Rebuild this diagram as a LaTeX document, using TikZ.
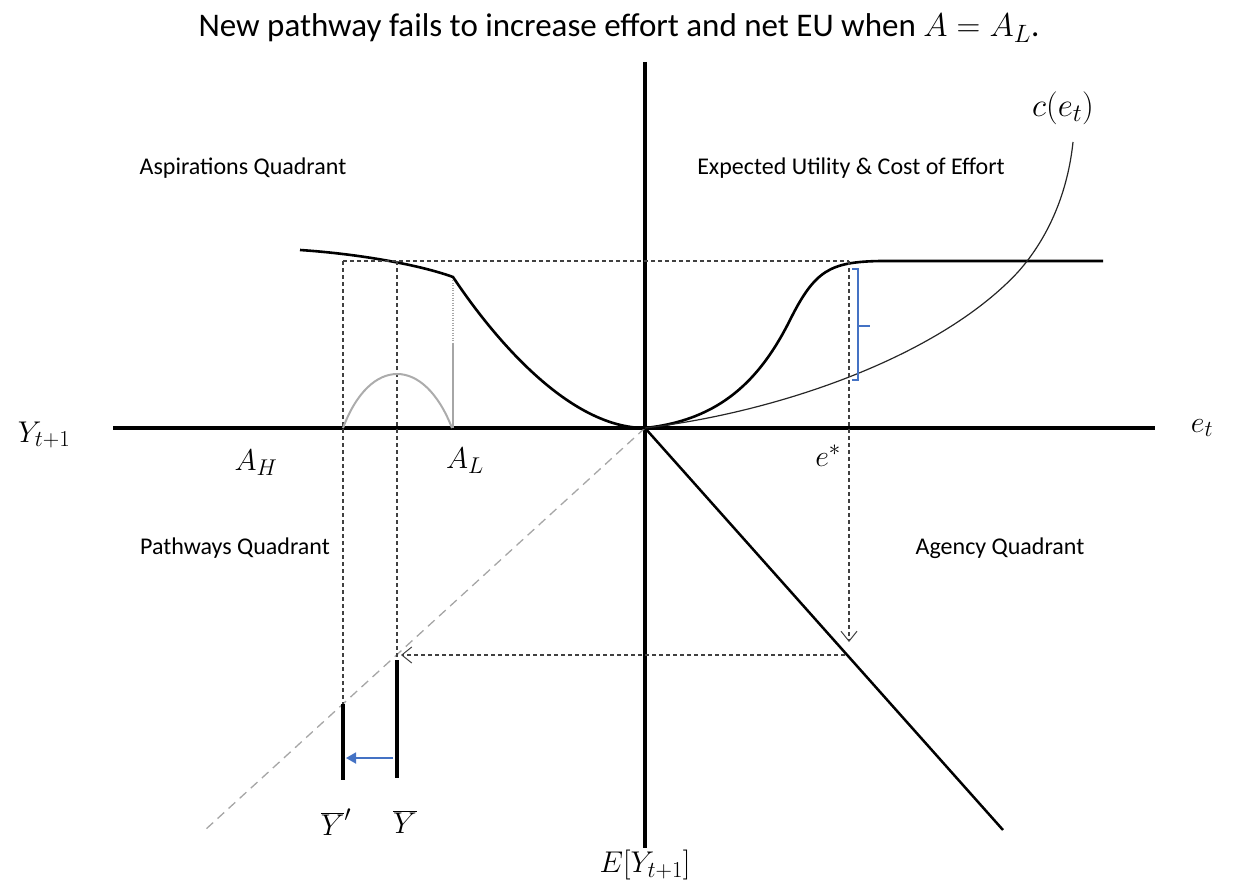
\RequirePackage{fix-cm}
\documentclass[tikz,border=0pt]{standalone}
\usepackage{fontspec}
\setmainfont{Carlito}
\usetikzlibrary{arrows.meta}
\def\defaultscriptratio{.76}
\definecolor{bracketblue}{RGB}{68,114,196}
\begin{document}
\begin{tikzpicture}[x=1pt,y=-1pt,
  axis/.style={line width=4pt},
  curve/.style={line width=2.6pt},
  thin curve/.style={line width=1.2pt, black!85},
  guide/.style={dash pattern=on 4pt off 3pt, line width=1.1pt, black!75},
  opentip/.style={-{Straight Barb[length=10pt,width=16pt,line width=1pt]}},
  diag/.style={dash pattern=on 9pt off 6pt, line width=1.3pt, gray!70},
  hump/.style={line width=2pt, gray!65},
  bar/.style={line width=4.5pt},
  blue line/.style={bracketblue, line width=1.8pt},
  qlabel/.style={font=\fontsize{24}{28}\selectfont},
  mlabel/.style={font=\fontsize{30}{36}\selectfont},
  title/.style={font=\fontsize{33}{40}\selectfont}]
\useasboundingbox (0,0) rectangle (1233,893);
% key coordinates
\coordinate (O) at (645,428);
\coordinate (xl) at (113,428);
\coordinate (xr) at (1155,428);
\coordinate (yt) at (645,62);
\coordinate (yb) at (645,848);
\coordinate (agend) at (1003,830);
\coordinate (diagend) at (205,830);
\coordinate (asp0) at (300,250);
\coordinate (kink) at (453,277);
\coordinate (euflat) at (880,261);
\coordinate (euend) at (1103,261);
\coordinate (cend) at (1073,142);
\coordinate (topL) at (343,261);
\coordinate (topM) at (397,261);
\coordinate (topR) at (849,261);
\coordinate (estar) at (849,642);
\coordinate (agpt) at (845,655);
\coordinate (ypt) at (401,655);
\coordinate (ybarTop) at (397,660);
\coordinate (ybarBot) at (397,778);
\coordinate (ypbarTop) at (343,704);
\coordinate (ypbarBot) at (343,780);
\coordinate (ar0) at (393,758);
\coordinate (ar1) at (346,758);
\coordinate (humpL) at (343,428);
\coordinate (humpR) at (452,428);
\coordinate (gv0) at (453,280);
\coordinate (gv1) at (453,343);
\coordinate (gv2) at (453,428);
% axes
\draw[axis] (xl) -- (xr);
\draw[axis] (yt) -- (yb);
% agency line and 45-degree line
\draw[line width=2.5pt] (O) -- (agend);
\draw[diag] (O) -- (diagend);
% aspirations curve
\draw[curve, line join=miter] (asp0) .. controls (360,254) and (420,265) .. (kink)
   .. controls (495,340) and (570,428) .. (O);
% expected utility curve
\draw[curve] (O) .. controls (720,420) and (760,380) .. (790,320)
   .. controls (815,270) and (830,262) .. (euflat) -- (euend);
% cost curve
\draw[thin curve] (O) .. controls (780,412) and (940,356) .. (1018,272)
   .. controls (1050,236) and (1068,190) .. (cend);
% dashed guides
\draw[guide] (topL) -- (topR);
\draw[guide] (topL) -- (ypbarTop);
\draw[guide] (topM) -- (ybarTop);
\draw[guide, opentip] (topR) -- (estar);
\draw[guide, opentip] (agpt) -- (ypt);
% grey hump and marker
\draw[hump] (humpL) .. controls (370,356) and (424,356) .. (humpR);
\draw[gray!70, line width=1.5pt, dash pattern=on 1pt off 1.5pt] (gv0) -- (gv1);
\draw[gray!70, line width=1.5pt] (gv1) -- (gv2);
% bars and blue arrow
\draw[bar] (ybarTop) -- (ybarBot);
\draw[bar] (ypbarTop) -- (ypbarBot);
\draw[blue line, -{Triangle[length=10pt,width=11pt]}] (ar0) -- (ar1);
% blue bracket
\coordinate (br0) at (852,269);
\coordinate (br1) at (858,269);
\coordinate (br2) at (858,380);
\coordinate (br3) at (852,380);
\coordinate (brm) at (858,326);
\coordinate (brt) at (870,326);
\draw[blue line] (br0) -- (br1) -- (br2) -- (br3);
\draw[blue line] (brm) -- (brt);
% texts
\node[title] (ttl) at (619,28) {New pathway fails to increase effort and net EU when $A = A_L$.};
\node[qlabel] (q1) at (243,168) {Aspirations Quadrant};
\node[qlabel] (q2) at (851,168) {Expected Utility \& Cost of Effort};
\node[qlabel] (q3) at (235,548) {Pathways Quadrant};
\node[qlabel] (q4) at (1000,548) {Agency Quadrant};
\node[mlabel] (ly) at (44,435) {$Y_{t+1}$};
\node[mlabel] (le) at (1202,428) {$e_t$};
\node[mlabel] (lah) at (256,463) {$A_H$};
\node[mlabel] (lal) at (465,461) {$A_L$};
\node[mlabel] (les) at (828,456) {$e^{*}$};
\node[mlabel] (lyp) at (336,822) {$\overline{Y}'$};
\node[mlabel] (lyb) at (405,822) {$\overline{Y}$};
\node[mlabel] (ley) at (645,865) {$E[Y_{t+1}]$};
\node[font=\fontsize{33}{38}\selectfont] (lc) at (1063,108) {$c(e_t)$};
\end{tikzpicture}
\end{document}
